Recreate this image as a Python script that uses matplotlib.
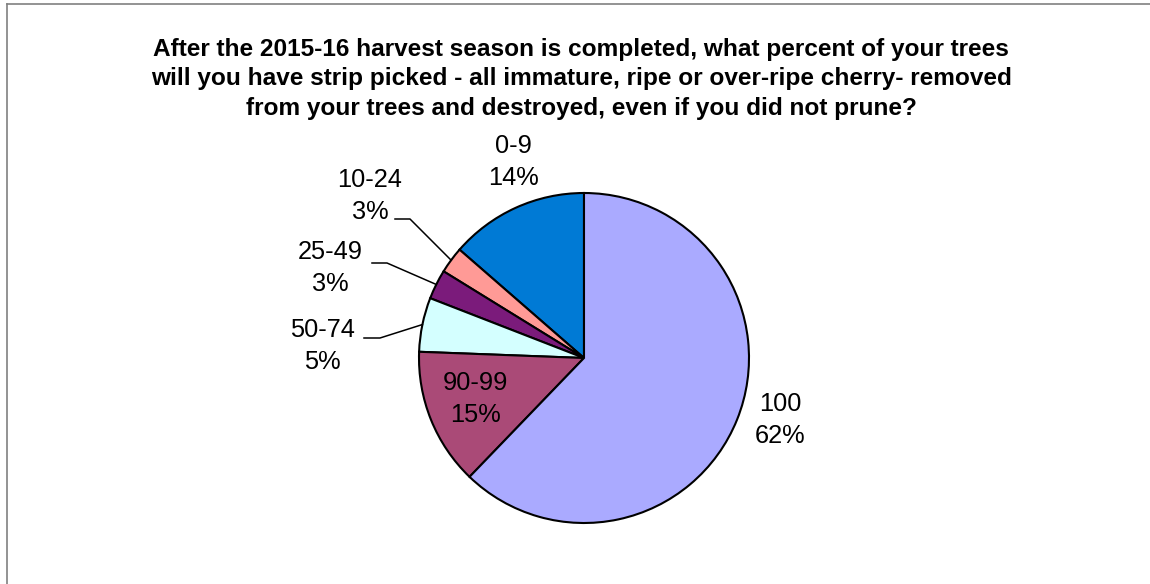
import numpy as np
import matplotlib.pyplot as plt

# survey answers (share of trees strip picked)
categories = ["0-9", "10-24", "25-49", "50-74", "90-99", "100"]
shares = [13.6, 2.6, 2.9, 5.3, 13.4, 62.2]
pct_labels = ["14%", "3%", "3%", "5%", "15%", "62%"]
colors = ["#007ad5", "#ff9a96", "#7b1b7b", "#d4ffff", "#aa4a77", "#aaaaff"]

title = ("After the 2015-16 harvest season is completed, what percent of your trees\n"
         "will you have strip picked - all immature, ripe or over-ripe cherry- removed\n"
         "from your trees and destroyed, even if you did not prune?")

W, H = 1150, 584
fig = plt.figure(figsize=(W / 100, H / 100), dpi=100)
ax = fig.add_axes([0, 0, 1, 1])

cx, cy, R = 584, H - 358, 165
wedges, _ = ax.pie(shares, colors=colors, startangle=90, counterclock=True,
                   center=(cx, cy), radius=R,
                   wedgeprops=dict(edgecolor="black", linewidth=1.5))
ax.set_xlim(0, W)
ax.set_ylim(0, H)
ax.set_aspect("auto")
ax.axis("off")

font = ["Liberation Sans", "DejaVu Sans"]
fs = 18.3

# label positions (pixels from top-left) and optional leader elbows
label_pos = {
    "0-9": (513, 162),
    "10-24": (370, 196),
    "25-49": (330, 268),
    "50-74": (322, 346),
    "90-99": (475, 399),
    "100": (780, 420),
}
elbows = {
    "10-24": ((395, 219), (410, 219)),
    "25-49": ((372, 263), (387, 263)),
    "50-74": ((364, 338), (380, 338)),
}

for w, cat, pct in zip(wedges, categories, pct_labels):
    x, y = label_pos[cat]
    ax.text(x, H - y, cat + "\n" + pct, ha="center", va="center",
            fontsize=fs, family=font, linespacing=1.45)
    if cat in elbows:
        mid = np.deg2rad((w.theta1 + w.theta2) / 2)
        px, py = cx + R * np.cos(mid), cy + R * np.sin(mid)
        (x0, y0), (x1, y1) = elbows[cat]
        ax.plot([x0, x1, px], [H - y0, H - y1, py], color="black", lw=1.1)

fig.text(0.5055, 1 - 79 / H, title, ha="center", va="center",
         fontsize=17.6, fontweight="bold", family=font, linespacing=1.38)

# frame of the pasted chart (top and left edges visible)
ax.plot([7, W], [H - 4, H - 4], color="#808080", lw=1.2, clip_on=False)
ax.plot([7, 7], [H - 4, 0], color="#808080", lw=1.2, clip_on=False)

fig.savefig("out.png", dpi=100)
